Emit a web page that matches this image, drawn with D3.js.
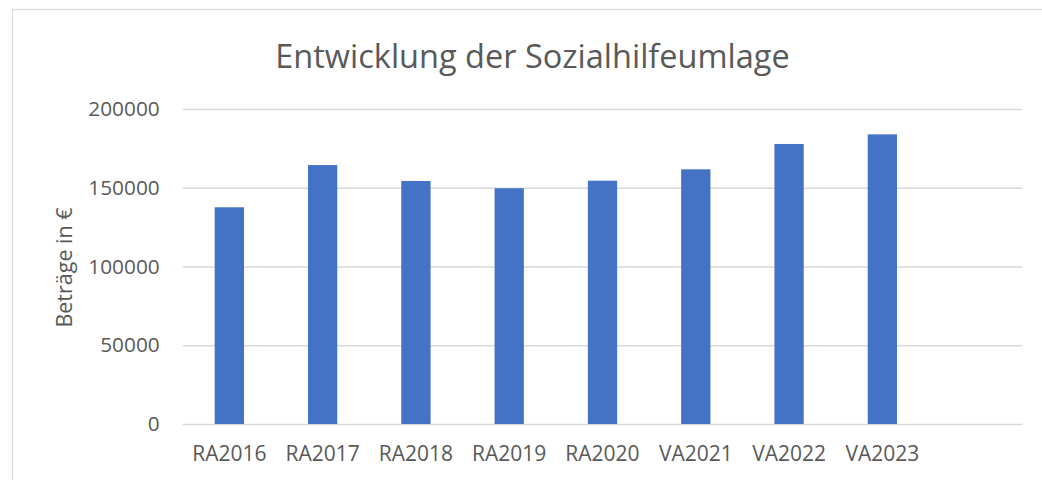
<!DOCTYPE html>
<html>
<head>
<meta charset="utf-8">
<script src="https://cdn.jsdelivr.net/npm/d3@7"></script>
<style>
  body { margin: 0; background: #fff; }
  svg { display: block; font-family: "Open Sans", sans-serif; }
  .tick text { fill: #595959; }
</style>
</head>
<body>
<div id="chart"></div>
<script>
// values
const categories = ["RA2016", "RA2017", "RA2018", "RA2019", "RA2020", "VA2021", "VA2022", "VA2023", ""];
const values = [137600, 164400, 154300, 149700, 154500, 161700, 177800, 183900, null];
const yTicks = [0, 50000, 100000, 150000, 200000];
const title = "Entwicklung der Sozialhilfeumlage";
const yTitle = "Beträge in €";

const widthSvg = 1042, heightSvg = 480;
const plot = {left: 182.7, right: 1022.3, top: 109, bottom: 424};

const svg = d3.select("#chart").append("svg")
    .attr("width", widthSvg)
    .attr("height", heightSvg);

// chart frame (runs off the right and bottom edge)
svg.append("rect")
    .attr("x", 12.5).attr("y", 9.5)
    .attr("width", 1100).attr("height", 600)
    .attr("fill", "#fff")
    .attr("stroke", "#d9d9d9")
    .attr("stroke-width", 1.2);

var x = d3.scaleBand()
    .domain(categories)
    .range([plot.left, plot.right])
    .paddingInner(0.686)
    .paddingOuter(0.343);

var y = d3.scaleLinear()
    .domain([0, 200000])
    .range([plot.bottom, plot.top]);

// gridlines + y labels
const yAxis = svg.append("g")
    .attr("transform", "translate(" + plot.left + ",0)")
    .call(d3.axisLeft(y).tickValues(yTicks).tickFormat(d3.format("d"))
        .tickSize(-(plot.right - plot.left)).tickPadding(23));
yAxis.select(".domain").remove();
yAxis.selectAll(".tick line").attr("stroke", "#d9d9d9").attr("stroke-width", 1.3);
yAxis.selectAll(".tick text").attr("font-size", 20.8).attr("font-family", "Open Sans");

// x labels
const xAxis = svg.append("g")
    .attr("transform", "translate(0," + plot.bottom + ")")
    .call(d3.axisBottom(x).tickSize(0).tickPadding(22));
xAxis.select(".domain").remove();
xAxis.selectAll(".tick text").attr("font-size", 21).attr("font-family", "Open Sans");

svg.selectAll(".bar")
    .data(categories.map((c, i) => ({cat: c, v: values[i]})).filter(d => d.v != null))
    .enter().append("rect")
    .attr("class", "bar")
    .attr("x", d => x(d.cat))
    .attr("y", d => y(d.v))
    .attr("width", x.bandwidth())
    .attr("height", d => y(0) - y(d.v))
    .attr("fill", "#4472c4");

svg.append("text")
    .attr("x", 532.5)
    .attr("y", 68)
    .attr("text-anchor", "middle")
    .attr("font-size", 32.5)
    .attr("fill", "#595959")
    .text(title);

svg.append("text")
    .attr("transform", "translate(72,267.5) rotate(-90)")
    .attr("text-anchor", "middle")
    .attr("font-size", 21.5)
    .attr("fill", "#595959")
    .text(yTitle);
</script>
</body>
</html>
